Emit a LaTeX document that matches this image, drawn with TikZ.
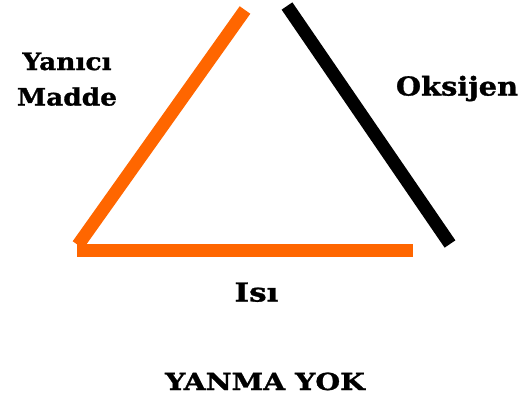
\documentclass[tikz,border=0pt]{standalone}
\usepackage{fontspec}
\setmainfont{DejaVu Serif}
\newfontfamily\fa[FakeStretch=1.1,FakeBold=1.2]{DejaVu Serif}
\newfontfamily\fb[FakeStretch=1.11,FakeBold=1.2]{DejaVu Serif}
\newfontfamily\fc[FakeStretch=1.2,FakeBold=1.2]{DejaVu Serif}
\newfontfamily\fd[FakeStretch=1.21,FakeBold=1.2]{DejaVu Serif}
\definecolor{fireorange}{RGB}{255,102,0}
\begin{document}
\begin{tikzpicture}[x=1pt,y=-1pt,
  side/.style={line width=13pt,line cap=butt},
  lbl/.style={inner sep=0pt,align=center,anchor=base}]
\useasboundingbox[fill=white] (0,0) rectangle (528,410);
\coordinate (ftop) at (245,10);
\coordinate (fbot) at (78,245);
\coordinate (hl) at (77,250);
\coordinate (hr) at (413,250);
\coordinate (otop) at (287,6);
\coordinate (obot) at (450,244);
\draw[side,fireorange] (ftop) -- (fbot);
\draw[side,fireorange] (hl) -- (hr);
\draw[side,black] (otop) -- (obot);
\node[lbl,font=\fa\bfseries\fontsize{24}{35.5}\selectfont] (yanici) at (67,105.5) {Yanıcı\\Madde};
\node[lbl,font=\fb\bfseries\fontsize{26}{30}\selectfont] (oksijen) at (457,95.5) {Oksijen};
\node[lbl,font=\fc\bfseries\fontsize{26}{30}\selectfont] (isi) at (256.5,301.5) {Isı};
\node[lbl,font=\fd\bfseries\fontsize{23.5}{28}\selectfont] (yok) at (265,390) {YANMA YOK};
\end{tikzpicture}
\end{document}
